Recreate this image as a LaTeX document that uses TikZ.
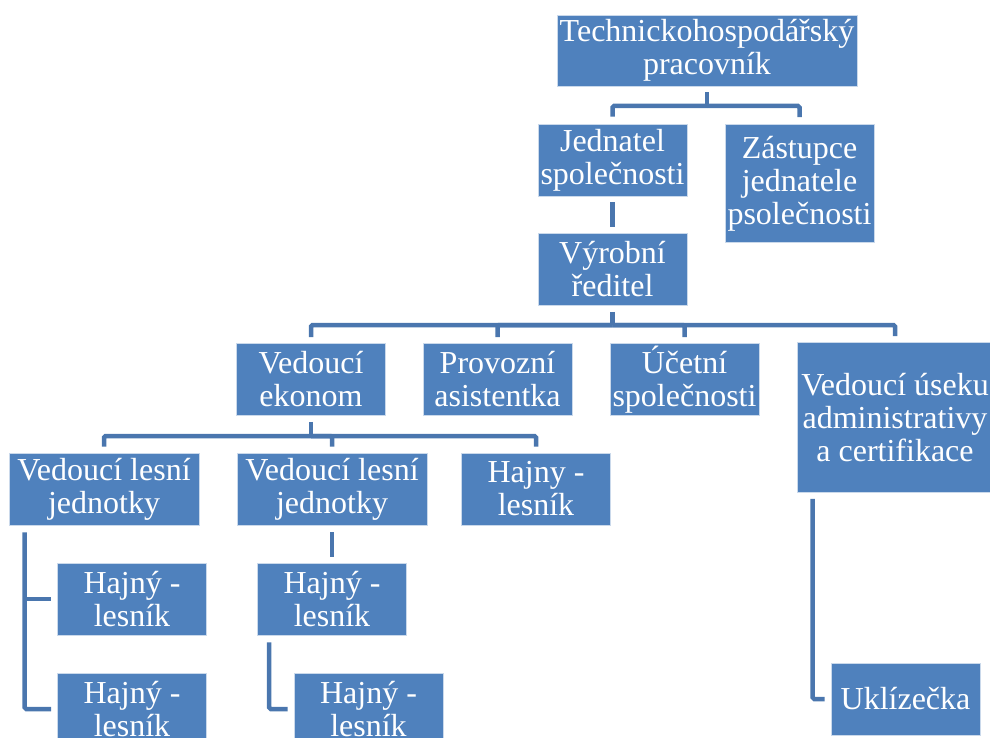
\documentclass[tikz,border=0pt]{standalone}
\usepackage{fontspec}
\setmainfont{Liberation Serif}
\definecolor{boxblue}{HTML}{4F81BD}
\definecolor{lineblue}{HTML}{4A76AE}

\begin{document}
\begin{tikzpicture}[x=1pt,y=-1pt,
    box/.style={rectangle,fill=boxblue,draw=white!70!boxblue,line width=0.6pt,text=white,align=center,
      minimum width=149pt,minimum height=72pt,inner sep=0pt,font=\fontsize{32}{33}\selectfont},
    conn/.style={draw=lineblue,line width=4.5pt,rounded corners=1.5pt}]
  \useasboundingbox (0,0) rectangle (990,738);

  \node [box,minimum width=300pt,minimum height=71pt] (thp) at (707,50.5) {Technickohospodářský\\pracovník};
  \node [box] (jed) at (612.5,160) {Jednatel\\společnosti};
  \node [box,minimum height=118pt] (zas) at (799.5,183.5) {Zástupce\\jednatele\\psolečnosti};
  \node [box] (vyr) at (612.5,269.5) {Výrobní\\ředitel};

  \node [box] (vek) at (311,379.5) {Vedoucí\\ekonom};
  \node [box] (pro) at (497.5,379.5) {Provozní\\asistentka};
  \node [box] (uce) at (684.5,379.5) {Účetní\\společnosti};
  \node [box,minimum width=196pt,minimum height=150pt] (vua) at (895,417.5) {Vedoucí úseku\\administrativy\\a certifikace};

  \node [box,minimum width=190pt] (vl1) at (104,489) {Vedoucí lesní\\jednotky};
  \node [box,minimum width=190pt] (vl2) at (332,489) {Vedoucí lesní\\jednotky};
  \node [box] (hl) at (536,489) {Hajny -\\lesník};

  \node [box] (h1a) at (132,599) {Hajný -\\lesník};
  \node [box] (h1b) at (132,709) {Hajný -\\lesník};
  \node [box] (h2a) at (332,599) {Hajný -\\lesník};
  \node [box] (h2b) at (368.5,709) {Hajný -\\lesník};
  \node [box] (ukl) at (905.5,699) {Uklízečka};

  \coordinate (b1) at (707,106);
  \draw[conn] ([yshift=-6pt]thp.south) -- (b1);
  \draw[conn] (b1) -| ([yshift=7pt]jed.north);
  \draw[conn] (b1) -| ([yshift=7pt]zas.north);
  \draw[conn] ([yshift=-6pt]jed.south) -- ([yshift=6pt]vyr.north);

  \coordinate (b2) at (612.5,325);
  \draw[conn] ([yshift=-6pt]vyr.south) -- (b2);
  \foreach \n in {vek,pro,uce,vua}
    \draw[conn] (b2) -| ([yshift=6pt]\n.north);

  \coordinate (b3) at (311,436);
  \draw[conn] ([yshift=-6pt]vek.south) -- (b3);
  \foreach \n in {vl1,vl2,hl}
    \draw[conn] (b3) -| ([yshift=6pt]\n.north);

  \draw[conn] ([xshift=16pt,yshift=-7pt]vl1.south west) |- ([xshift=-6pt]h1b.west);
  \draw[conn] ([xshift=16pt]vl1.south west |- h1a.west) -- ([xshift=-6pt]h1a.west);
  \draw[conn] ([yshift=-7pt]vl2.south) -- ([yshift=6pt]h2a.north);
  \draw[conn] ([xshift=12pt,yshift=-7pt]h2a.south west) |- ([xshift=-6pt]h2b.west);
  \draw[conn] ([xshift=16pt,yshift=-6pt]vua.south west) |- ([xshift=-6pt]ukl.west);
\end{tikzpicture}
\end{document}
